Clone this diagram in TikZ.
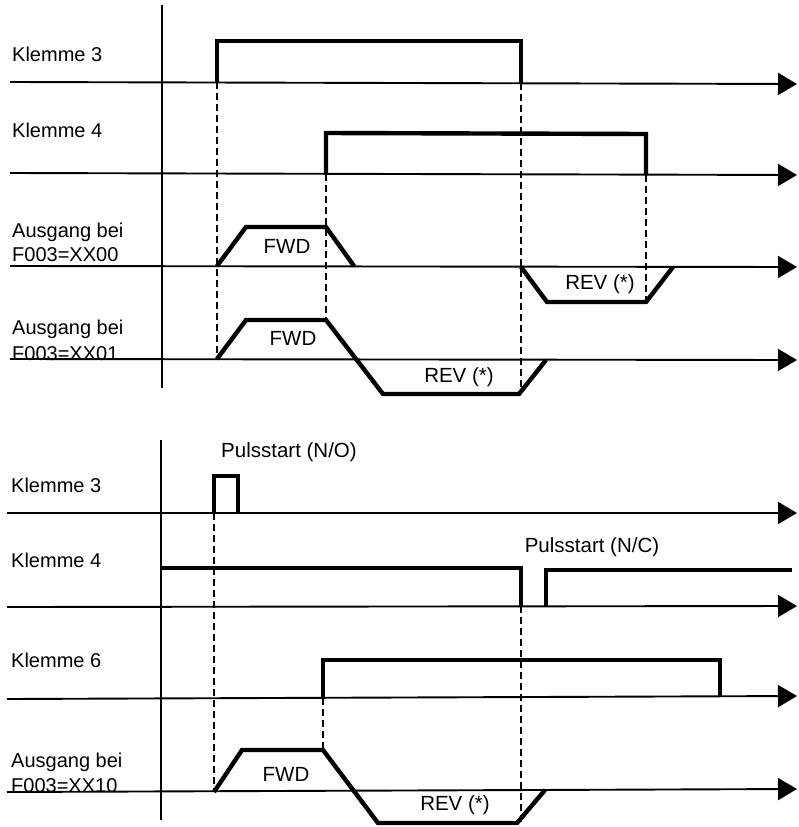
\documentclass[tikz,border=0pt]{standalone}
\usepackage{fontspec}
\setmainfont{Liberation Sans}
\usetikzlibrary{arrows.meta}
\begin{document}
\begin{tikzpicture}[x=1pt,y=-1pt,
 axis/.style={line width=1.9pt,-{Triangle[length=19pt,width=22pt]}},
 yaxis/.style={line width=2.2pt},
 sig/.style={line width=4.4pt,line join=miter},
 guide/.style={line width=1.4pt,dash pattern=on 7pt off 4pt},
 lbl/.style={anchor=base west,font=\fontsize{20}{22}\selectfont,inner sep=0pt},
 tag/.style={font=\fontsize{20.5}{22}\selectfont,inner sep=0pt}]
\useasboundingbox (0,0) rectangle (798,827);
\fill[white] (0,0) rectangle (798,827);

% ---------- upper diagram ----------
\draw[yaxis] (162,5) -- (162,388);
\draw[axis] (10,82) -- (797,84);
\draw[axis] (10,173) -- (797,175);
\draw[axis] (10,266) -- (797,267);
\draw[axis] (10,359) -- (797,360);

\draw[guide] (217,82) -- (217,360);
\draw[guide] (326,174) -- (326,320);
\draw[guide] (521,83) -- (521,394);
\draw[guide] (646,175) -- (646,302);

\draw[sig] (217,82) -- (217,41) -- (521,41) -- (521,83);
\draw[sig] (326,174) -- (326,133) -- (646,134) -- (646,175);
\draw[sig] (217,266) -- (246,227) -- (326,227) -- (354,266);
\draw[sig] (521,267) -- (547,302) -- (646,302) -- (673,267);
\draw[sig] (217,359) -- (246,320) -- (326,320) -- (383,394) -- (519,394) -- (546,360);

\node[lbl] (k3a) at (12,61) {Klemme 3};
\node[lbl] (k4a) at (12,137) {Klemme 4};
\node[lbl] (a0a) at (12,237) {Ausgang bei};
\node[lbl] (f0a) at (12,261) {F003=XX00};
\node[lbl] (a1a) at (12,334) {Ausgang bei};
\node[lbl] (f1a) at (12,360) {F003=XX01};

\node[tag] (fwd1) at (287,246) {FWD};
\node[tag] (rev1) at (600,284) {REV (*)};
\node[tag] (fwd2) at (293,338) {FWD};
\node[tag] (rev2) at (459,377) {REV (*)};

% ---------- lower diagram ----------
\draw[yaxis] (161,440) -- (161,820);
\draw[axis] (7,513) -- (797,513);
\draw[axis] (7,607) -- (797,606);
\draw[axis] (7,699) -- (797,696);
\draw[axis] (7,792) -- (797,789);

\draw[guide] (214,513) -- (214,792);
\draw[guide] (323,698) -- (323,750);
\draw[guide] (521,606) -- (521,823);

\draw[sig] (214,513) -- (214,476) -- (238,476) -- (238,513);
\draw[sig] (161,568) -- (521,568) -- (521,606);
\draw[sig] (546,606) -- (546,570) -- (792,570);
\draw[sig] (323,698) -- (323,660) -- (720,660) -- (720,697);
\draw[sig] (214,792) -- (242,750) -- (323,750) -- (378,823) -- (517,823) -- (545,790);

\node[lbl] (k3b) at (11,492) {Klemme 3};
\node[lbl] (k4b) at (11,567) {Klemme 4};
\node[lbl] (k6b) at (11,667) {Klemme 6};
\node[lbl] (a2b) at (11,767) {Ausgang bei};
\node[lbl] (f2b) at (11,792) {F003=XX10};

\node[tag] (pno) at (289,452) {Pulsstart (N/O)};
\node[tag] (pnc) at (592,547) {Pulsstart (N/C)};
\node[tag] (fwd3) at (286,774) {FWD};
\node[tag] (rev3) at (455,805) {REV (*)};
\end{tikzpicture}
\end{document}
